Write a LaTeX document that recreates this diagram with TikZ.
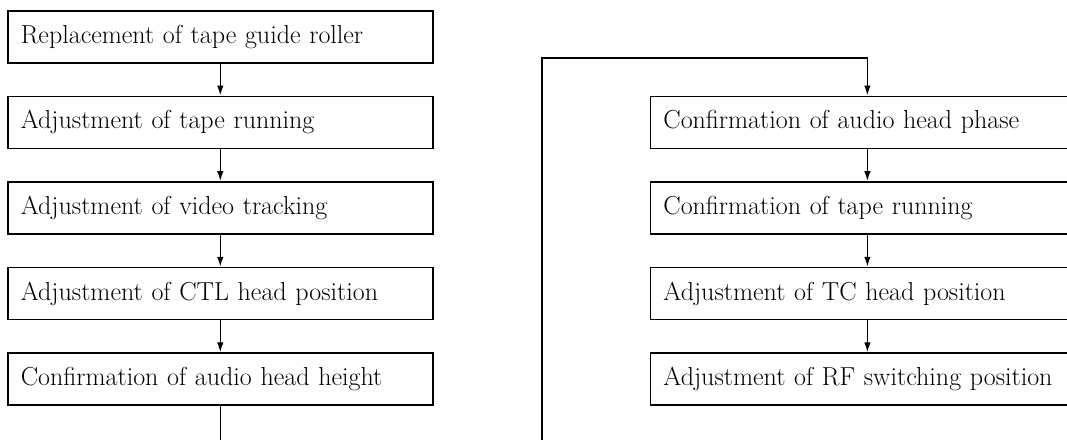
\documentclass[tikz,border=0pt]{standalone}
\usetikzlibrary{arrows.meta,positioning}
\tikzset{
  box/.style  = {draw=black, line width=1.6pt, align=left, text width=399pt,
                 inner xsep=13pt, inner ysep=0pt, minimum height=52pt,
                 font=\fontsize{26}{30}\selectfont, fill=white},
  rbox/.style = {box, text width=408pt},
  arr/.style  = {-{Latex[length=10pt,width=6.5pt]}, draw=black, line width=1.5pt},
}
\begin{document}
\begin{tikzpicture}[x=1pt, y=-1pt, node distance=32pt and 216pt]
  \useasboundingbox (0,0) rectangle (1067,439);
  \clip (0,0) rectangle (1067,439);
  \fill[white] (0,0) rectangle (1067,439);
  \node[box, anchor=north west] (l1) at (7,10) {Replacement of tape guide roller};
  \node[box, below=of l1] (l2) {Adjustment of tape running};
  \node[box, below=of l2] (l3) {Adjustment of video tracking};
  \node[box, below=of l3] (l4) {Adjustment of CTL head position};
  \node[box, below=of l4] (l5) {Confirmation of audio head height};
  \node[rbox, right=216pt of l2.north east, anchor=north west] (r1) {Confirmation of audio head phase};
  \node[rbox, below=of r1] (r2) {Confirmation of tape running};
  \node[rbox, below=of r2] (r3) {Adjustment of TC head position};
  \node[rbox, below=of r3] (r4) {Adjustment of RF switching position};
  \coordinate (loop) at (542,470);
  \coordinate (top) at (542,58);
  \draw[arr] (l1) -- (l2);
  \draw[arr] (l2) -- (l3);
  \draw[arr] (l3) -- (l4);
  \draw[arr] (l4) -- (l5);
  \draw[arr] (l5.south) |- (loop) -- (top) -| (r1.north);
  \draw[arr] (r1) -- (r2);
  \draw[arr] (r2) -- (r3);
  \draw[arr] (r3) -- (r4);
\end{tikzpicture}
\end{document}
